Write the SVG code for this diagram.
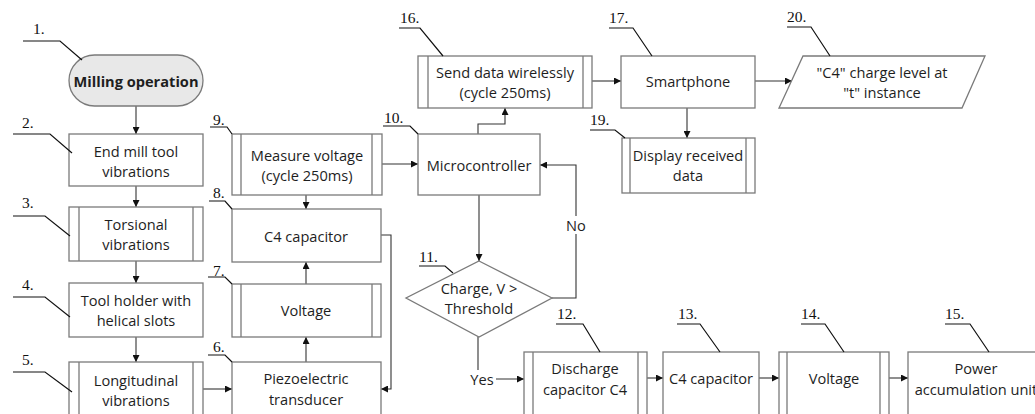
<svg xmlns="http://www.w3.org/2000/svg" width="1035" height="414" viewBox="0 0 1035 414">
<style>
.box{fill:#fff;stroke:#7a7a7a;stroke-width:1.3}
.in{stroke:#7a7a7a;stroke-width:1.3;fill:none}
.t{font-family:"Open Sans","Liberation Sans",sans-serif;font-size:14.6px;fill:#1e1e1e;text-anchor:middle;dominant-baseline:central}
.n{font-family:"Liberation Serif",serif;font-size:15.5px;fill:#111}
.ld{fill:none;stroke:#111;stroke-width:1.2}
.c{fill:none;stroke:#333;stroke-width:1.1}
</style>
<defs>
<marker id="a" viewBox="0 0 8 8" refX="8" refY="4" markerWidth="7" markerHeight="7" markerUnits="userSpaceOnUse" orient="auto">
<path d="M0,0 L8,4 L0,8 z" fill="#111"/>
</marker>
</defs>
<rect width="1035" height="414" fill="#fff"/>

<g id="connectors">
<path class="c" d="M136,106 V134" marker-end="url(#a)"/>
<path class="c" d="M136,186 V207" marker-end="url(#a)"/>
<path class="c" d="M136,261 V283" marker-end="url(#a)"/>
<path class="c" d="M136,337 V362" marker-end="url(#a)"/>
<path class="c" d="M203,389 H232" marker-end="url(#a)"/>
<path class="c" d="M306,362 V337" marker-end="url(#a)"/>
<path class="c" d="M306,284 V262" marker-end="url(#a)"/>
<path class="c" d="M306,195 V209" marker-end="url(#a)"/>
<path class="c" d="M381,235 H391 V389 H381" marker-end="url(#a)"/>
<path class="c" d="M382,164 H418" marker-end="url(#a)"/>
<path class="c" d="M478,134 V124 H505 V108" marker-end="url(#a)"/>
<path class="c" d="M592,81 H621" marker-end="url(#a)"/>
<path class="c" d="M687,108 V138" marker-end="url(#a)"/>
<path class="c" d="M755,81 H792" marker-end="url(#a)"/>
<path class="c" d="M479,195 V261" marker-end="url(#a)"/>
<path class="c" d="M552,298 H576 V165 H540" marker-end="url(#a)"/>
<path class="c" d="M478,337 V379 H524" marker-end="url(#a)"/>
<path class="c" d="M647,378 H663" marker-end="url(#a)"/>
<path class="c" d="M759,378 H779" marker-end="url(#a)"/>
<path class="c" d="M889,378 H908" marker-end="url(#a)"/>
<rect x="565" y="216" width="22" height="18" fill="#fff"/>
<text class="t" x="576" y="225">No</text>
<rect x="469" y="370" width="27" height="18" fill="#fff"/>
<text class="t" x="482" y="379">Yes</text>
</g>

<g id="n1">
<rect x="69" y="55" width="134" height="51" rx="25.5" fill="#e8e8e8" stroke="#7a7a7a" stroke-width="1.3"/>
<text class="t" x="136" y="81" font-weight="bold">Milling operation</text>
<text class="n" x="33" y="34">1.</text>
<polyline class="ld" points="23,41 60,41 82,60"/>
</g>
<g id="n2">
<rect class="box" x="69" y="134" width="134" height="52"/>
<text class="t" x="136" y="151">End mill tool</text>
<text class="t" x="136" y="171">vibrations</text>
<text class="n" x="22" y="128">2.</text>
<polyline class="ld" points="13,134 50,134 72,153"/>
</g>
<g id="n3">
<rect class="box" x="69" y="207" width="134" height="54"/>
<path class="in" d="M79,207 V261 M193,207 V261"/>
<text class="t" x="136" y="224">Torsional</text>
<text class="t" x="136" y="244">vibrations</text>
<text class="n" x="22" y="208">3.</text>
<polyline class="ld" points="13,216 45,216 70,236"/>
</g>
<g id="n4">
<rect class="box" x="69" y="283" width="134" height="54"/>
<text class="t" x="136" y="300">Tool holder with</text>
<text class="t" x="136" y="320">helical slots</text>
<text class="n" x="22" y="290">4.</text>
<polyline class="ld" points="13,297 45,297 70,317"/>
</g>
<g id="n5">
<rect class="box" x="69" y="362" width="134" height="60"/>
<path class="in" d="M79,362 V422 M193,362 V422"/>
<text class="t" x="136" y="380">Longitudinal</text>
<text class="t" x="136" y="400">vibrations</text>
<text class="n" x="22" y="365">5.</text>
<polyline class="ld" points="13,372 45,372 72,392"/>
</g>
<g id="n6">
<rect class="box" x="232" y="362" width="149" height="60"/>
<text class="t" x="306" y="378">Piezoelectric</text>
<text class="t" x="306" y="399">transducer</text>
<text class="n" x="213" y="352">6.</text>
<polyline class="ld" points="208,355 225,355 232,362"/>
</g>
<g id="n7">
<rect class="box" x="232" y="284" width="149" height="53"/>
<path class="in" d="M241,284 V337 M372,284 V337"/>
<text class="t" x="306" y="310">Voltage</text>
<text class="n" x="213" y="276">7.</text>
<polyline class="ld" points="208,277 225,277 232,284"/>
</g>
<g id="n8">
<rect class="box" x="232" y="209" width="149" height="53"/>
<text class="t" x="306" y="236">C4 capacitor</text>
<text class="n" x="213" y="198">8.</text>
<polyline class="ld" points="209,201 225,201 232,209"/>
</g>
<g id="n9">
<rect class="box" x="232" y="134" width="150" height="61"/>
<path class="in" d="M241,134 V195 M372,134 V195"/>
<text class="t" x="307" y="155">Measure voltage</text>
<text class="t" x="307" y="175">(cycle 250ms)</text>
<text class="n" x="213" y="125">9.</text>
<polyline class="ld" points="210,127 227,127 232,134"/>
</g>
<g id="n10">
<rect class="box" x="418" y="134" width="122" height="61"/>
<text class="t" x="479" y="165">Microcontroller</text>
<text class="n" x="384" y="123">10.</text>
<polyline class="ld" points="383,126 410,126 418,134"/>
</g>
<g id="n11">
<polygon class="box" points="479,261 552,298 479,337 406,298"/>
<text class="t" x="479" y="288">Charge, V &gt;</text>
<text class="t" x="479" y="308">Threshold</text>
<text class="n" x="419" y="262">11.</text>
<polyline class="ld" points="419,266 445,266 453,273"/>
</g>
<g id="n12">
<rect class="box" x="524" y="352" width="123" height="70"/>
<path class="in" d="M533,352 V422 M638,352 V422"/>
<text class="t" x="585" y="368">Discharge</text>
<text class="t" x="585" y="389">capacitor C4</text>
<text class="n" x="557" y="319">12.</text>
<polyline class="ld" points="556,324 583,324 600,352"/>
</g>
<g id="n13">
<rect class="box" x="663" y="352" width="96" height="70"/>
<text class="t" x="711" y="378">C4 capacitor</text>
<text class="n" x="678" y="319">13.</text>
<polyline class="ld" points="677,324 700,324 720,352"/>
</g>
<g id="n14">
<rect class="box" x="779" y="352" width="110" height="70"/>
<path class="in" d="M787,352 V422 M880,352 V422"/>
<text class="t" x="834" y="378">Voltage</text>
<text class="n" x="801" y="319">14.</text>
<polyline class="ld" points="801,324 825,324 844,352"/>
</g>
<g id="n15">
<rect class="box" x="908" y="352" width="140" height="70"/>
<text class="t" x="976" y="368">Power</text>
<text class="t" x="976" y="389">accumulation unit</text>
<text class="n" x="945" y="319">15.</text>
<polyline class="ld" points="945,324 970,324 989,352"/>
</g>
<g id="n16">
<rect class="box" x="418" y="56" width="174" height="52"/>
<path class="in" d="M428,56 V108 M583,56 V108"/>
<text class="t" x="505" y="72">Send data wirelessly</text>
<text class="t" x="505" y="92">(cycle 250ms)</text>
<text class="n" x="400" y="23">16.</text>
<polyline class="ld" points="399,28 420,28 443,56"/>
</g>
<g id="n17">
<rect class="box" x="621" y="56" width="134" height="52"/>
<text class="t" x="688" y="81">Smartphone</text>
<text class="n" x="609" y="23">17.</text>
<polyline class="ld" points="609,28 633,28 652,56"/>
</g>
<g id="n19">
<rect class="box" x="622" y="138" width="133" height="55"/>
<path class="in" d="M630,138 V193 M746,138 V193"/>
<text class="t" x="688" y="155">Display received</text>
<text class="t" x="688" y="175">data</text>
<text class="n" x="590" y="125">19.</text>
<polyline class="ld" points="590,130 615,130 625,138"/>
</g>
<g id="n20">
<polygon class="box" points="803,56 985,56 962,108 779,108"/>
<text class="t" x="882" y="72">"C4" charge level at</text>
<text class="t" x="882" y="92">"t" instance</text>
<text class="n" x="787" y="22">20.</text>
<polyline class="ld" points="787,27 811,27 830,56"/>
</g>
</svg>
